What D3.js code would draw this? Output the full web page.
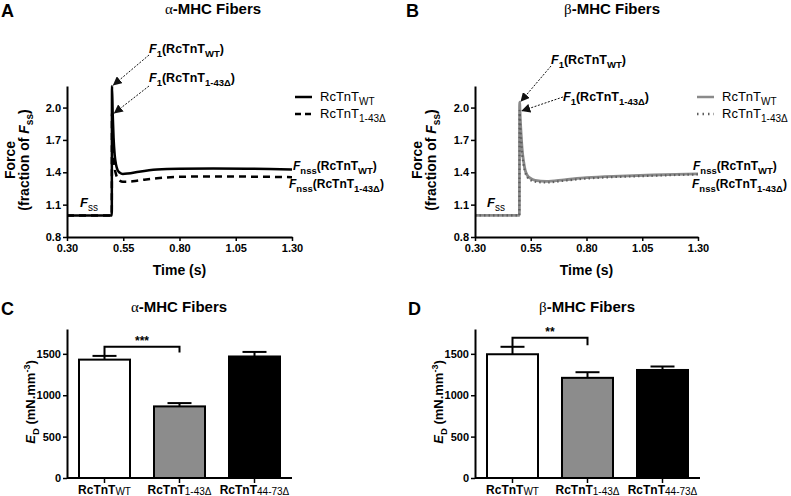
<!DOCTYPE html>
<html>
<head>
<meta charset="utf-8">
<script src="https://cdn.jsdelivr.net/npm/d3@7"></script>
<style>
  body { margin: 0; background: #fff; }
  svg { font-family: "Liberation Sans", Arial, sans-serif; }
</style>
</head>
<body>
<svg id="fig" width="791" height="496"></svg>
<script>
// time courses (s) and normalised force
const timePts = [0.30, 0.499, 0.500, 0.503, 0.507, 0.512, 0.518, 0.525, 0.535, 0.548, 0.57, 0.62, 0.70, 0.80, 0.95, 1.10, 1.20, 1.30];
const alphaWT = [1.00, 1.00, 2.20, 1.95, 1.72, 1.56, 1.47, 1.42, 1.395, 1.385, 1.388, 1.405, 1.425, 1.433, 1.435, 1.433, 1.430, 1.425];
const alphaMut = [1.00, 1.00, 1.95, 1.72, 1.55, 1.44, 1.38, 1.345, 1.322, 1.312, 1.312, 1.325, 1.345, 1.358, 1.362, 1.360, 1.358, 1.355];
const betaWT = [1.00, 1.00, 2.05, 1.90, 1.75, 1.60, 1.50, 1.42, 1.37, 1.345, 1.325, 1.315, 1.330, 1.350, 1.365, 1.375, 1.380, 1.385];
const betaMut = [1.00, 1.00, 1.97, 1.84, 1.70, 1.56, 1.47, 1.40, 1.355, 1.33, 1.312, 1.305, 1.322, 1.342, 1.358, 1.368, 1.375, 1.380];
const timeTicks = [0.30, 0.55, 0.80, 1.05, 1.30];
const forceTicks = [0.8, 1.1, 1.4, 1.7, 2.0];

// dynamic stiffness bars
const barCats = ['WT', '1-43Δ', '44-73Δ'];
const alphaED = [1430, 865, 1468];
const alphaSEM = [45, 40, 55];
const betaED = [1495, 1210, 1305];
const betaSEM = [90, 68, 42];
const edTicks = [0, 500, 1000, 1500];
const barFills = ['#ffffff', '#8c8c8c', '#000000'];
// significance brackets: [top, left leg end, right leg end]
const alphaSig = [1585, 1480, 1515];
const betaSig = [1695, 1590, 1605];

const svg = d3.select('#fig');
svg.append('rect').attr('width', 791).attr('height', 496).attr('fill', '#fff');

svg.append('defs').append('marker')
  .attr('id', 'arr').attr('viewBox', '0 0 10 10')
  .attr('refX', 9).attr('refY', 5)
  .attr('markerWidth', 9).attr('markerHeight', 9)
  .attr('markerUnits', 'userSpaceOnUse')
  .attr('orient', 'auto')
  .append('path').attr('d', 'M0,0L10,5L0,10z').attr('fill', '#111');

// text with sub/superscripts
function rich(g, x, y, parts, o) {
  o = o || {};
  const size = o.size || 13;
  const t = g.append('text').attr('x', x).attr('y', y)
    .attr('font-size', size)
    .attr('font-weight', o.weight || 'bold')
    .attr('text-anchor', o.anchor || 'start');
  let shift = 0;
  parts.forEach(p => {
    const ts = t.append('tspan').text(p.t);
    const target = p.sub ? size * (p.down || 0.3) : p.sup ? -size * 0.4 : 0;
    ts.attr('dy', target - shift);
    shift = target;
    if (p.sub || p.sup) ts.attr('font-size', p.size || Math.round(size * 0.7));
    if (p.it) ts.attr('font-style', 'italic');
    if (p.w) ts.attr('font-weight', p.w);
    if (p.f) ts.attr('font-family', p.f);
  });
  if (o.rotate) t.attr('transform', `rotate(-90,${x},${y})`);
  return t;
}

function title(x, y, greek, letter, lx, ly) {
  rich(svg, x, y, [{ t: greek, f: '"Liberation Serif", serif', w: 'normal' }, { t: '-MHC Fibers' }], { size: 15, anchor: 'middle' });
  svg.append('text').attr('x', lx).attr('y', ly).attr('font-size', 18)
    .attr('font-weight', 'bold').text(letter);
}

function styleAxis(g) {
  g.selectAll('.domain').attr('stroke', '#000').attr('stroke-width', 2);
  g.selectAll('.tick line').attr('stroke', '#000').attr('stroke-width', 1.5);
  g.selectAll('.tick text').attr('font-size', 11).attr('font-weight', 'bold')
    .attr('font-family', '"Liberation Sans", Arial, sans-serif').attr('fill', '#000');
}

function linePanel(c) {
  const x = d3.scaleLinear().domain([0.30, 1.30]).range([c.x0, c.x1]);
  const y = d3.scaleLinear().domain([0.8, 2.2]).range([237, 86]);
  const g = svg.append('g');

  const line = d3.line().x(d => x(d[0])).y(d => y(d[1])).curve(d3.curveMonotoneX);
  const wt = timePts.map((t, i) => [t, c.wt[i]]);
  const mut = timePts.map((t, i) => [t, c.mut[i]]);

  if (c.gray) {
    g.append('path').attr('d', line(wt)).attr('fill', 'none')
      .attr('stroke', '#8a8a8a').attr('stroke-width', 2.8);
    g.append('path').attr('d', line(mut)).attr('fill', 'none')
      .attr('stroke', '#5e5e5e').attr('stroke-width', 2.2).attr('stroke-dasharray', '1.5,3');
  } else {
    g.append('path').attr('d', line(mut)).attr('fill', 'none')
      .attr('stroke', '#000').attr('stroke-width', 2.5).attr('stroke-dasharray', '7,5');
    g.append('path').attr('d', line(wt)).attr('fill', 'none')
      .attr('stroke', '#000').attr('stroke-width', 2.5);
  }

  const ax = g.append('g').attr('transform', 'translate(0,237)')
    .call(d3.axisBottom(x).tickValues(timeTicks).tickFormat(d3.format('.2f')).tickSize(4).tickSizeOuter(0).tickPadding(3));
  const ay = g.append('g').attr('transform', `translate(${c.x0},0)`)
    .call(d3.axisLeft(y).tickValues(forceTicks).tickFormat(d3.format('.1f')).tickSize(4).tickSizeOuter(0).tickPadding(2));
  styleAxis(ax); styleAxis(ay);

  svg.append('text').attr('x', (c.x0 + c.x1) / 2).attr('y', 275).attr('text-anchor', 'middle')
    .attr('font-size', 14).attr('font-weight', 'bold').text('Time (s)');
  rich(svg, c.yl1, 160, [{ t: 'Force' }], { size: 14, anchor: 'middle', rotate: true });
  rich(svg, c.yl2, 160, [{ t: '(fraction of ' }, { t: 'F', it: true }, { t: 'ss', sub: true, size: 10 }, { t: ')' }],
    { size: 14, anchor: 'middle', rotate: true });

  // legend
  const lg = svg.append('g');
  const lw = c.gray ? { s: '#8a8a8a', d: '#5e5e5e', da: '1.5,4' } : { s: '#000', d: '#000', da: '6,4' };
  lg.append('line').attr('x1', c.lx).attr('x2', c.lx + 17).attr('y1', 97).attr('y2', 97)
    .attr('stroke', lw.s).attr('stroke-width', 2.5);
  lg.append('line').attr('x1', c.lx).attr('x2', c.lx + 17).attr('y1', 114).attr('y2', 114)
    .attr('stroke', lw.d).attr('stroke-width', 2.5).attr('stroke-dasharray', lw.da);
  rich(lg, c.lx + 25, 101, [{ t: 'RcTnT' }, { t: 'WT', sub: true, size: 10 }], { size: 13, weight: 'normal' });
  rich(lg, c.lx + 25, 118, [{ t: 'RcTnT' }, { t: '1-43Δ', sub: true, size: 10 }], { size: 13, weight: 'normal' });

  // annotations
  const peakX = x(timePts[2]) + 1.5;
  const a1 = [{ t: 'F', it: true }, { t: '1', sub: true, size: 9.5 }, { t: '(RcTnT' }, { t: 'WT', sub: true, size: 9.5 }, { t: ')' }];
  const a2 = [{ t: 'F', it: true }, { t: '1', sub: true, size: 9.5 }, { t: '(RcTnT' }, { t: '1-43Δ', sub: true, size: 9.5 }, { t: ')' }];
  rich(svg, c.f1[0], c.f1[1], a1, { size: 12.5 });
  rich(svg, c.f2[0], c.f2[1], a2, { size: 12.5 });
  svg.append('line').attr('x1', c.f1[0]).attr('y1', c.f1[1] + 2)
    .attr('x2', peakX).attr('y2', y(c.wt[2]) - 1)
    .attr('stroke', '#111').attr('stroke-width', 1).attr('stroke-dasharray', '2,1.5').attr('marker-end', 'url(#arr)');
  svg.append('line').attr('x1', c.f2[0]).attr('y1', c.f2[1] + c.f2dy)
    .attr('x2', peakX + 1).attr('y2', y(c.mut[2]))
    .attr('stroke', '#111').attr('stroke-width', 1).attr('stroke-dasharray', '2,1.5').attr('marker-end', 'url(#arr)');

  const nss = sub => [{ t: 'F', it: true }, { t: 'nss', sub: true, size: 9.5 }, { t: '(RcTnT' }, { t: sub, sub: true, size: 9.5 }, { t: ')' }];
  rich(svg, c.n1[0], c.n1[1], nss('WT'), { size: 12 });
  rich(svg, c.n2[0], c.n2[1], nss('1-43Δ'), { size: 12 });
  rich(svg, c.ss[0], c.ss[1], [{ t: 'F', it: true }, { t: 'ss', sub: true, size: 10, w: 'normal' }], { size: 13 });
}

function barPanel(c) {
  const x = d3.scaleBand().domain(barCats).range([c.x0, c.x0 + 225]).paddingInner(0.32).paddingOuter(0.16);
  const y = d3.scaleLinear().domain([0, 1800]).range([478, 329]);
  const g = svg.append('g');
  const cx = d => x(d) + x.bandwidth() / 2;

  // error bars (upper only)
  g.selectAll('.err').data(barCats).join('g').each(function (d, i) {
    const e = d3.select(this);
    e.append('line').attr('x1', cx(d)).attr('x2', cx(d)).attr('y1', y(c.means[i])).attr('y2', y(c.means[i] + c.sem[i]))
      .attr('stroke', '#000').attr('stroke-width', 2);
    e.append('line').attr('x1', cx(d) - 12).attr('x2', cx(d) + 12)
      .attr('y1', y(c.means[i] + c.sem[i])).attr('y2', y(c.means[i] + c.sem[i]))
      .attr('stroke', '#000').attr('stroke-width', 2);
  });
  g.selectAll('.bar').data(barCats).join('rect')
    .attr('x', d => x(d)).attr('width', x.bandwidth())
    .attr('y', (d, i) => y(c.means[i])).attr('height', (d, i) => 478 - y(c.means[i]))
    .attr('fill', (d, i) => barFills[i]).attr('stroke', '#000').attr('stroke-width', 2);

  const ax = g.append('g').attr('transform', 'translate(0,478)')
    .call(d3.axisBottom(x).tickSize(5).tickSizeOuter(0).tickFormat(''));
  const ay = g.append('g').attr('transform', `translate(${c.x0},0)`)
    .call(d3.axisLeft(y).tickValues(edTicks).tickFormat(d3.format('d')).tickSize(4).tickSizeOuter(0).tickPadding(2));
  styleAxis(ax); styleAxis(ay);
  ax.select('.domain').attr('d', `M${c.x0},0H${c.x0 + 225}`);

  barCats.forEach(d => {
    rich(svg, cx(d), 494, [{ t: 'RcTnT' }, { t: d, sub: true, size: 10, w: 'normal', down: 0.12 }], { size: 12, anchor: 'middle' });
  });

  // bracket
  const s = c.sig;
  g.append('path')
    .attr('d', `M${cx(barCats[0])},${y(s[1])}V${y(s[0])}H${cx(barCats[1])}V${y(s[2])}`)
    .attr('fill', 'none').attr('stroke', '#000').attr('stroke-width', 2);
  g.append('text').attr('x', (cx(barCats[0]) + cx(barCats[1])) / 2).attr('y', y(s[0]) - 2)
    .attr('text-anchor', 'middle').attr('font-size', 12).attr('font-weight', 'bold').text(c.stars);

  rich(svg, c.yl, 402, [{ t: 'E', it: true }, { t: 'D', sub: true, size: 9.5 }, { t: ' (mN.mm' }, { t: '-3', sup: true, size: 9 }, { t: ')' }],
    { size: 13, anchor: 'middle', rotate: true });
}

title(213, 14, 'α', 'A', 1, 17);
title(612, 14, 'β', 'B', 406, 17);
title(179, 312, 'α', 'C', 1, 315);
title(587, 312, 'β', 'D', 408, 315);

linePanel({
  x0: 67, x1: 292, wt: alphaWT, mut: alphaMut, gray: false, lx: 295,
  yl1: 15, yl2: 29,
  f1: [149, 53], f2: [149, 82], f2dy: 4,
  n1: [293, 170], n2: [289, 188], ss: [80, 207]
});
linePanel({
  x0: 475, x1: 698, wt: betaWT, mut: betaMut, gray: true, lx: 697,
  yl1: 422, yl2: 436,
  f1: [551, 64], f2: [563, 101], f2dy: -4,
  n1: [693, 170], n2: [692, 188], ss: [487, 207]
});
barPanel({ x0: 67, means: alphaED, sem: alphaSEM, sig: alphaSig, stars: '***', yl: 35 });
barPanel({ x0: 475, means: betaED, sem: betaSEM, sig: betaSig, stars: '**', yl: 443 });
</script>
</body>
</html>
